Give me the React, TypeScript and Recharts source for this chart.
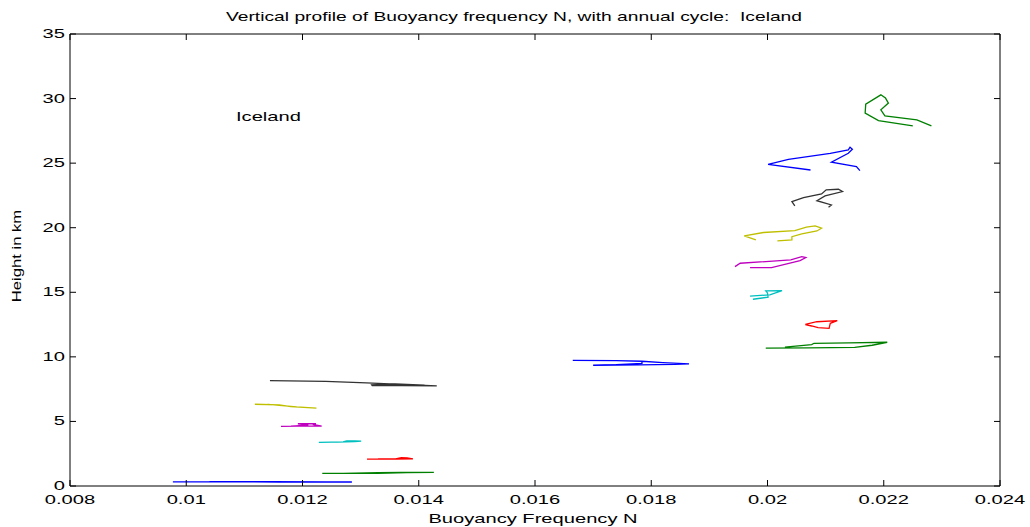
import React from 'react';
import { LineChart, Line, XAxis, YAxis, ReferenceDot, Customized } from 'recharts';

const FONT = '"Liberation Sans", Arial, Helvetica, sans-serif';
const SX = 1.55;

const xTicks = [0.008, 0.01, 0.012, 0.014, 0.016, 0.018, 0.02, 0.022, 0.024];
const xTickLabels = ['0.008', '0.01', '0.012', '0.014', '0.016', '0.018', '0.02', '0.022', '0.024'];
const yTicks = [0, 5, 10, 15, 20, 25, 30, 35];
const yTickLabels = ['0', '5', '10', '15', '20', '25', '30', '35'];

const titleText = 'Vertical profile of Buoyancy frequency N, with annual cycle:  Iceland';
const xLabelText = 'Buoyancy Frequency N';
const yLabelText = 'Height in km';
const placeText = 'Iceland';
const placeX = 0.010856;
const placeY = 28.29;

type P = [number, number];
const lvl01: P[] = [[0.00977,0.32],[0.0106,0.32],[0.0116,0.31],[0.0122,0.31],[0.01285,0.31],[0.0124,0.32],[0.0115,0.33],[0.0104,0.33]];
const lvl02: P[] = [[0.01234,0.97],[0.0128,0.97],[0.0133,0.98],[0.0138,1.03],[0.01426,1.06],[0.0137,1.05],[0.0133,1.03],[0.0127,0.98]];
const lvl03: P[] = [[0.01311,2.08],[0.0134,2.09],[0.0136,2.1],[0.0137,2.2],[0.0138,2.18],[0.0139,2.1],[0.0136,2.09],[0.0133,2.1]];
const lvl04: P[] = [[0.01228,3.38],[0.0125,3.39],[0.0127,3.41],[0.01276,3.5],[0.0129,3.5],[0.01301,3.47],[0.0129,3.43],[0.0126,3.4]];
const lvl05: P[] = [[0.01163,4.62],[0.0119,4.63],[0.0121,4.66],[0.01233,4.63],[0.0122,4.75],[0.01223,4.82],[0.01192,4.82],[0.0121,4.72],[0.0118,4.64]];
const lvl06: P[] = [[0.01118,6.33],[0.0116,6.28],[0.0118,6.15],[0.01224,6.03],[0.0121,6.07],[0.0119,6.12],[0.0117,6.2],[0.0114,6.32]];
const lvl07: P[] = [[0.01144,8.16],[0.0124,8.1],[0.0131,7.98],[0.01431,7.76],[0.0137,7.78],[0.0132,7.78],[0.01319,7.84],[0.0136,7.9],[0.0141,7.8]];
const lvl08: P[] = [[0.01665,9.72],[0.0174,9.71],[0.01784,9.66],[0.0182,9.55],[0.01865,9.45],[0.0184,9.42],[0.0178,9.38],[0.017,9.35],[0.0174,9.4],[0.01784,9.5],[0.01784,9.62]];
const lvl09: P[] = [[0.01997,10.67],[0.0207,10.7],[0.0215,10.74],[0.0218,10.9],[0.02206,11.13],[0.0214,11.08],[0.0208,11.05],[0.02076,10.95],[0.0203,10.75]];
const lvl10: P[] = [[0.02065,12.52],[0.02085,12.72],[0.0212,12.8],[0.02108,12.6],[0.02106,12.21],[0.02087,12.26],[0.02076,12.39],[0.02065,12.5]];
const lvl11: P[] = [[0.01975,14.46],[0.02001,14.62],[0.02,14.95],[0.01997,15.11],[0.02025,15.13],[0.02004,14.8],[0.0197,14.71]];
const lvl12: P[] = [[0.01944,16.99],[0.01953,17.25],[0.0204,17.51],[0.02059,17.76],[0.02066,17.69],[0.02056,17.45],[0.02007,16.91],[0.0197,16.91]];
const lvl13: P[] = [[0.0198,19.06],[0.0196,19.37],[0.01993,19.63],[0.02047,19.78],[0.02067,20.04],[0.02082,20.14],[0.02093,19.96],[0.02085,19.75],[0.02059,19.52],[0.02042,19.31],[0.02042,19.06],[0.02017,18.98]];
const lvl14: P[] = [[0.02047,21.69],[0.02042,22.02],[0.02062,22.33],[0.02093,22.62],[0.02101,22.93],[0.02122,22.98],[0.02129,22.8],[0.02099,22.46],[0.02085,22.09],[0.0211,21.76],[0.02105,21.58]];
const lvl15: P[] = [[0.02074,24.47],[0.02001,24.91],[0.02036,25.3],[0.02108,25.76],[0.02139,26.02],[0.02142,26.23],[0.02146,26.07],[0.02139,25.76],[0.0211,25.07],[0.02153,24.73],[0.02159,24.42]];
const lvl16: P[] = [[0.0225,27.89],[0.02191,28.3],[0.02168,28.87],[0.02169,29.57],[0.02195,30.29],[0.02203,30.04],[0.02208,29.65],[0.02195,29.13],[0.02202,28.66],[0.02257,28.35],[0.02282,27.89]];

const levels: P[][] = [lvl01, lvl02, lvl03, lvl04, lvl05, lvl06, lvl07, lvl08, lvl09, lvl10, lvl11, lvl12, lvl13, lvl14, lvl15, lvl16];
const colorCycle = ['#0000FF', '#008000', '#FF0000', '#00BFBF', '#BF00BF', '#BFBF00', '#333333'];

const TICK = 6;

const BottomTick = (props: any) => {
  const { x, y, payload } = props;
  const i = xTicks.indexOf(payload.value);
  return (
    <g>
      <line x1={x} y1={y} x2={x} y2={y - TICK} stroke="#000" strokeWidth={1} />
      <text transform={`translate(${x},${y + 18}) scale(${SX},1)`} textAnchor="middle" fontSize={13} fontFamily={FONT} fill="#000">
        {i >= 0 ? xTickLabels[i] : String(payload.value)}
      </text>
    </g>
  );
};

const TopTick = (props: any) => {
  const { x, y } = props;
  return <line x1={x} y1={y} x2={x} y2={y + TICK} stroke="#000" strokeWidth={1} />;
};

const LeftTick = (props: any) => {
  const { x, y, payload } = props;
  const i = yTicks.indexOf(payload.value);
  return (
    <g>
      <line x1={x} y1={y} x2={x + TICK} y2={y} stroke="#000" strokeWidth={1} />
      <text transform={`translate(${x - 5},${y + 4}) scale(${SX},1)`} textAnchor="end" fontSize={13} fontFamily={FONT} fill="#000">
        {i >= 0 ? yTickLabels[i] : String(payload.value)}
      </text>
    </g>
  );
};

const RightTick = (props: any) => {
  const { x, y } = props;
  return <line x1={x} y1={y} x2={x - TICK} y2={y} stroke="#000" strokeWidth={1} />;
};

const PlaceLabel = (props: any) => {
  const vb = props.viewBox || {};
  const x = vb.x + (vb.width || 0) / 2;
  const y = vb.y + (vb.height || 0) / 2;
  return (
    <text transform={`translate(${x},${y}) scale(${SX},1)`} textAnchor="start" fontSize={13} fontFamily={FONT} fill="#000">
      {placeText}
    </text>
  );
};

const Texts = () => (
  <g>
    <text transform={`translate(514,21) scale(1.48,1)`} textAnchor="middle" fontSize={13} fontFamily={FONT} fill="#000" style={{ whiteSpace: 'pre' }} xmlSpace="preserve">
      {titleText}
    </text>
    <text transform={`translate(533,522.5) scale(${SX},1)`} textAnchor="middle" fontSize={13} fontFamily={FONT} fill="#000">
      {xLabelText}
    </text>
    <text transform={`translate(21,256) rotate(-90) scale(1.28,1)`} textAnchor="middle" fontSize={13} fontFamily={FONT} fill="#000">
      {yLabelText}
    </text>
  </g>
);

export default function App() {
  return (
    <div style={{ position: 'absolute', left: 0, top: 0, width: 1030, height: 527, background: '#fff' }}>
      <LineChart width={1030} height={527} margin={{ top: 33, right: 29, bottom: 0, left: 0 }}>
        <XAxis
          xAxisId="main"
          dataKey="x"
          type="number"
          domain={[0.008, 0.024]}
          ticks={xTicks}
          allowDataOverflow
          height={41}
          tickSize={0}
          tickMargin={0}
          tickLine={false}
          axisLine={{ stroke: '#000', strokeWidth: 1 }}
          tick={BottomTick}
          interval={0}
        />
        <XAxis
          xAxisId="top"
          orientation="top"
          dataKey="x"
          type="number"
          domain={[0.008, 0.024]}
          ticks={xTicks}
          allowDataOverflow
          height={1}
          tickSize={0}
          tickMargin={0}
          tickLine={false}
          axisLine={{ stroke: '#000', strokeWidth: 1 }}
          tick={TopTick}
          interval={0}
        />
        <YAxis
          yAxisId="main"
          type="number"
          domain={[0, 35]}
          ticks={yTicks}
          allowDataOverflow
          width={70}
          tickSize={0}
          tickMargin={0}
          tickLine={false}
          axisLine={{ stroke: '#000', strokeWidth: 1 }}
          tick={LeftTick}
          interval={0}
        />
        <YAxis
          yAxisId="right"
          orientation="right"
          type="number"
          domain={[0, 35]}
          ticks={yTicks}
          allowDataOverflow
          width={1}
          tickSize={0}
          tickMargin={0}
          tickLine={false}
          axisLine={{ stroke: '#000', strokeWidth: 1 }}
          tick={RightTick}
          interval={0}
        />
        {levels.map((lv, i) => (
          <Line
            key={`lvl${i}`}
            name={`lvl${i}`}
            xAxisId="main"
            yAxisId="main"
            data={lv.map(([x, y]) => ({ x, y }))}
            dataKey="y"
            type="linear"
            stroke={colorCycle[i % colorCycle.length]}
            strokeWidth={1.3}
            dot={false}
            activeDot={false}
            isAnimationActive={false}
          />
        ))}
        <ReferenceDot
          xAxisId="main"
          yAxisId="main"
          x={placeX}
          y={placeY}
          r={0}
          fill="none"
          stroke="none"
          label={PlaceLabel}
        />
        <Customized component={Texts} />
      </LineChart>
    </div>
  );
}
